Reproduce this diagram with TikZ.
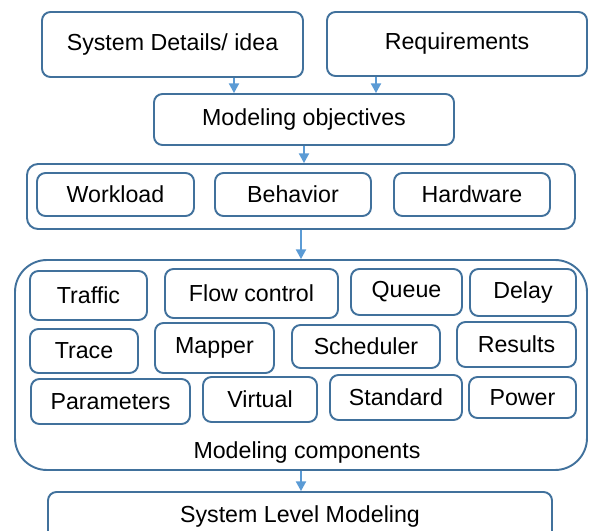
\documentclass[tikz,border=0pt]{standalone}
\usepackage{fontspec}
\setmainfont{Liberation Sans}
\usetikzlibrary{arrows.meta, calc}
\definecolor{edgeblue}{RGB}{65, 113, 156}
\definecolor{arrowblue}{RGB}{91, 155, 213}

\begin{document}
\begin{tikzpicture}[
    font=\fontsize{13.2}{15}\selectfont,
    box/.style={draw=edgeblue, line width=1.1pt, rounded corners=0.17cm, inner sep=0pt},
    groupbox/.style={draw=edgeblue, line width=1.1pt, inner sep=0pt},
    arr/.style={draw=arrowblue, line width=0.8pt, -{Triangle[length=5.5pt, width=5.8pt]}}
  ]
  \useasboundingbox (0,0) rectangle (11.8,-10.62);

  % Inputs
  \node[box, minimum width=5.22cm, minimum height=1.30cm] (sysdet) at (3.45,-0.89) {System Details/ idea};
  \node[box, minimum width=5.20cm, minimum height=1.28cm] (req) at (9.14,-0.88) {Requirements};
  \node[box, minimum width=6.00cm, minimum height=1.02cm] (obj) at (6.08,-2.39) {Modeling objectives};

  % Objective group
  \node[groupbox, rounded corners=0.22cm, minimum width=10.96cm, minimum height=1.30cm] (objgrp) at (6.02,-3.93) {};
  \node[box, minimum width=3.14cm, minimum height=0.86cm] (wload) at (2.31,-3.89) {Workload};
  \node[box, minimum width=3.12cm, minimum height=0.86cm] (behav) at (5.86,-3.89) {Behavior};
  \node[box, minimum width=3.12cm, minimum height=0.86cm] (hware) at (9.44,-3.89) {Hardware};

  % Component group
  \node[groupbox, rounded corners=0.64cm, minimum width=11.44cm, minimum height=4.20cm] (compgrp) at (6.02,-7.30) {};
  \node[box, minimum width=2.34cm, minimum height=0.98cm] (traffic) at (1.77,-5.91) {Traffic};
  \node[box, minimum width=3.46cm, minimum height=0.98cm] (flow) at (5.03,-5.87) {Flow control};
  \node[box, minimum width=2.22cm, minimum height=0.92cm] (queue) at (8.13,-5.84) {Queue};
  \node[box, minimum width=2.12cm, minimum height=0.94cm] (delay) at (10.46,-5.85) {Delay};
  \node[box, minimum width=2.16cm, minimum height=0.88cm] (trace) at (1.68,-7.02) {Trace};
  \node[box, minimum width=2.38cm, minimum height=1.00cm] (mapper) at (4.29,-6.96) {Mapper};
  \node[box, minimum width=2.96cm, minimum height=0.86cm] (sched) at (7.32,-6.93) {Scheduler};
  \node[box, minimum width=2.38cm, minimum height=0.90cm] (results) at (10.33,-6.89) {Results};
  \node[box, minimum width=3.18cm, minimum height=0.90cm] (params) at (2.21,-8.03) {Parameters};
  \node[box, minimum width=2.28cm, minimum height=0.90cm] (virtual) at (5.20,-7.99) {Virtual};
  \node[box, minimum width=2.64cm, minimum height=0.90cm] (standard) at (7.92,-7.95) {Standard};
  \node[box, minimum width=2.14cm, minimum height=0.82cm] (power) at (10.45,-7.95) {Power};
  \node (complabel) at (6.14,-9.04) {Modeling components};

  % Output
  \node[box, minimum width=10.08cm, minimum height=0.96cm] (slm) at (6.00,-10.32) {System Level Modeling};

  % Arrows
  \coordinate (inleft) at ([xshift=-1.40cm]obj.north);
  \coordinate (inright) at ([xshift=1.44cm]obj.north);
  \draw[arr] (inleft |- sysdet.south) -- (inleft);
  \draw[arr] (inright |- req.south) -- (inright);
  \draw[arr] (obj.south) -- (obj.south |- objgrp.north);
  \draw[arr] (objgrp.south) -- (compgrp.north);
  \draw[arr] (compgrp.south) -- (compgrp.south |- slm.north);
\end{tikzpicture}
\end{document}
